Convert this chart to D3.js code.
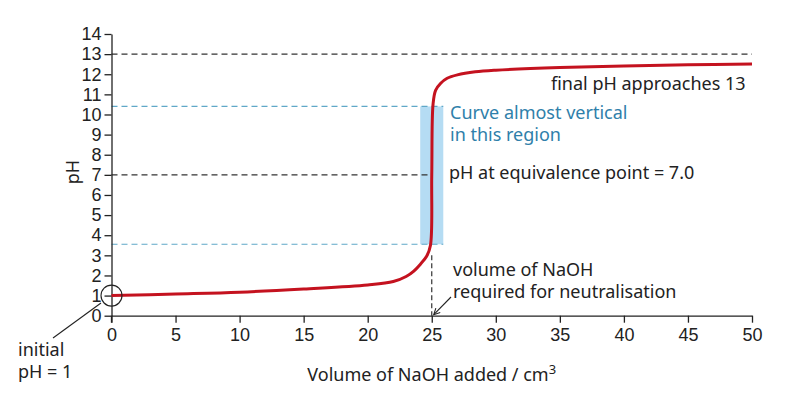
<!DOCTYPE html>
<html>
<head>
<meta charset="utf-8">
<script src="https://cdn.jsdelivr.net/npm/d3@7"></script>
<style>
  body { margin: 0; background: #fff; }
  svg { display: block; font-family: "Noto Sans", "Open Sans", sans-serif; }
  .axis text { font-size: 18px; fill: #222; }
  .axis path, .axis line { stroke: #222; stroke-width: 1.3; }
  .note { font-size: 18px; fill: #222; }
</style>
</head>
<body>
<div id="chart"></div>
<script>
// titration curve: volume NaOH (cm3) vs pH
const volume = [0, 5, 10, 15, 20, 22, 23, 23.6, 24.1, 24.6, 24.9, 25, 25.1, 25.3, 25.7, 26.2, 27, 28.4, 30, 35, 40, 45, 50];
const ph =     [1.0, 1.08, 1.17, 1.33, 1.53, 1.7, 1.95, 2.22, 2.55, 2.95, 3.5, 7, 10.5, 11.2, 11.55, 11.8, 11.97, 12.12, 12.2, 12.33, 12.41, 12.47, 12.51];

const xTicks = [0, 5, 10, 15, 20, 25, 30, 35, 40, 45, 50];
const yTicks = d3.range(0, 15);

const equivVolume = 25;
const equivPh = 7;
const finalPh = 13;
const steepLow = 3.55, steepHigh = 10.4;
const steepVolLow = 24.1, steepVolHigh = 25.9;

const width = 800, height = 399;
const svg = d3.select('#chart').append('svg')
  .attr('width', width)
  .attr('height', height);

const x = d3.scaleLinear().domain([0, 50]).range([111.5, 752]);
const y = d3.scaleLinear().domain([0, 14]).range([315.7, 34]);

// shaded steep region
svg.append('rect')
  .attr('x', x(steepVolLow))
  .attr('y', y(steepHigh))
  .attr('width', x(steepVolHigh) - x(steepVolLow))
  .attr('height', y(steepLow) - y(steepHigh))
  .attr('fill', '#b5dcf3');

// guide lines
const blue = '#5fa8c8';
[steepLow, steepHigh].forEach(v => {
  svg.append('line')
    .attr('x1', x(0)).attr('x2', x(steepVolHigh))
    .attr('y1', y(v)).attr('y2', y(v))
    .attr('stroke', blue).attr('stroke-width', 1.2)
    .attr('stroke-dasharray', '6,4');
});

svg.append('line')
  .attr('x1', x(0)).attr('x2', x(50))
  .attr('y1', y(finalPh)).attr('y2', y(finalPh))
  .attr('stroke', '#333').attr('stroke-width', 1.2)
  .attr('stroke-dasharray', '6,4');

svg.append('line')
  .attr('x1', x(0)).attr('x2', x(equivVolume))
  .attr('y1', y(equivPh)).attr('y2', y(equivPh))
  .attr('stroke', '#333').attr('stroke-width', 1.2)
  .attr('stroke-dasharray', '6,4');

svg.append('line')
  .attr('x1', x(equivVolume)).attr('x2', x(equivVolume))
  .attr('y1', y(3)).attr('y2', y(0))
  .attr('stroke', '#333').attr('stroke-width', 1.2)
  .attr('stroke-dasharray', '5,3');

// axes
svg.append('g')
  .attr('class', 'axis')
  .attr('transform', `translate(0,${y(0)})`)
  .call(d3.axisBottom(x).tickValues(xTicks).tickSize(7).tickSizeOuter(0).tickPadding(6));

svg.append('g')
  .attr('class', 'axis')
  .attr('transform', `translate(${x(0)},0)`)
  .call(d3.axisLeft(y).tickValues(yTicks).tickSize(7).tickSizeOuter(0).tickPadding(3));

// y axis runs a little below zero
svg.append('line')
  .attr('x1', x(0)).attr('x2', x(0))
  .attr('y1', y(0)).attr('y2', y(0) + 7)
  .attr('stroke', '#222').attr('stroke-width', 1.3);

// curve
const points = volume.map((v, i) => ({ v, p: ph[i] }));
svg.append('path')
  .datum(points)
  .attr('fill', 'none')
  .attr('stroke', '#c4121f')
  .attr('stroke-width', 3)
  .attr('d', d3.line().x(d => x(d.v)).y(d => y(d.p)).curve(d3.curveCatmullRom.alpha(0.5)));

// initial pH marker
svg.append('circle')
  .attr('cx', x(0)).attr('cy', y(1)).attr('r', 10.5)
  .attr('fill', 'none').attr('stroke', '#222').attr('stroke-width', 1.1);
svg.append('line')
  .attr('x1', 101).attr('y1', 303).attr('x2', 53).attr('y2', 338)
  .attr('stroke', '#222').attr('stroke-width', 1.1);

// arrow to equivalence volume
svg.append('defs').append('marker')
  .attr('id', 'arr')
  .attr('viewBox', '0 0 10 10')
  .attr('refX', 9).attr('refY', 5)
  .attr('markerWidth', 7).attr('markerHeight', 7)
  .attr('orient', 'auto')
  .append('path')
  .attr('d', 'M1,1 L9,5 L1,9')
  .attr('fill', 'none').attr('stroke', '#222').attr('stroke-width', 1.4);
svg.append('line')
  .attr('x1', 451).attr('y1', 297).attr('x2', x(equivVolume) + 2).attr('y2', y(0) - 1)
  .attr('stroke', '#222').attr('stroke-width', 1.1)
  .attr('marker-end', 'url(#arr)');

// labels
svg.append('text')
  .attr('class', 'note')
  .attr('transform', 'translate(79,172) rotate(-90)')
  .attr('text-anchor', 'middle')
  .text('pH');

const xTitle = svg.append('text')
  .attr('class', 'note')
  .attr('x', x(25)).attr('y', 381)
  .attr('text-anchor', 'middle');
xTitle.append('tspan').text('Volume of NaOH added / cm');
xTitle.append('tspan').attr('dy', -7).attr('font-size', 13).text('3');

function note(tx, ty, lines, color) {
  const t = svg.append('text').attr('class', 'note')
    .attr('x', tx).attr('y', ty);
  if (color) t.style('fill', color);
  lines.forEach((s, i) => {
    t.append('tspan').attr('x', tx).attr('dy', i ? 22 : 0).text(s);
  });
}

note(551, 90, ['final pH approaches 13']);
note(450, 119, ['Curve almost vertical', 'in this region'], '#2f80aa');
note(449, 179, ['pH at equivalence point = 7.0']);
note(453, 276, ['volume of NaOH', 'required for neutralisation']);
note(18, 356, ['initial', 'pH = 1']);
</script>
</body>
</html>
